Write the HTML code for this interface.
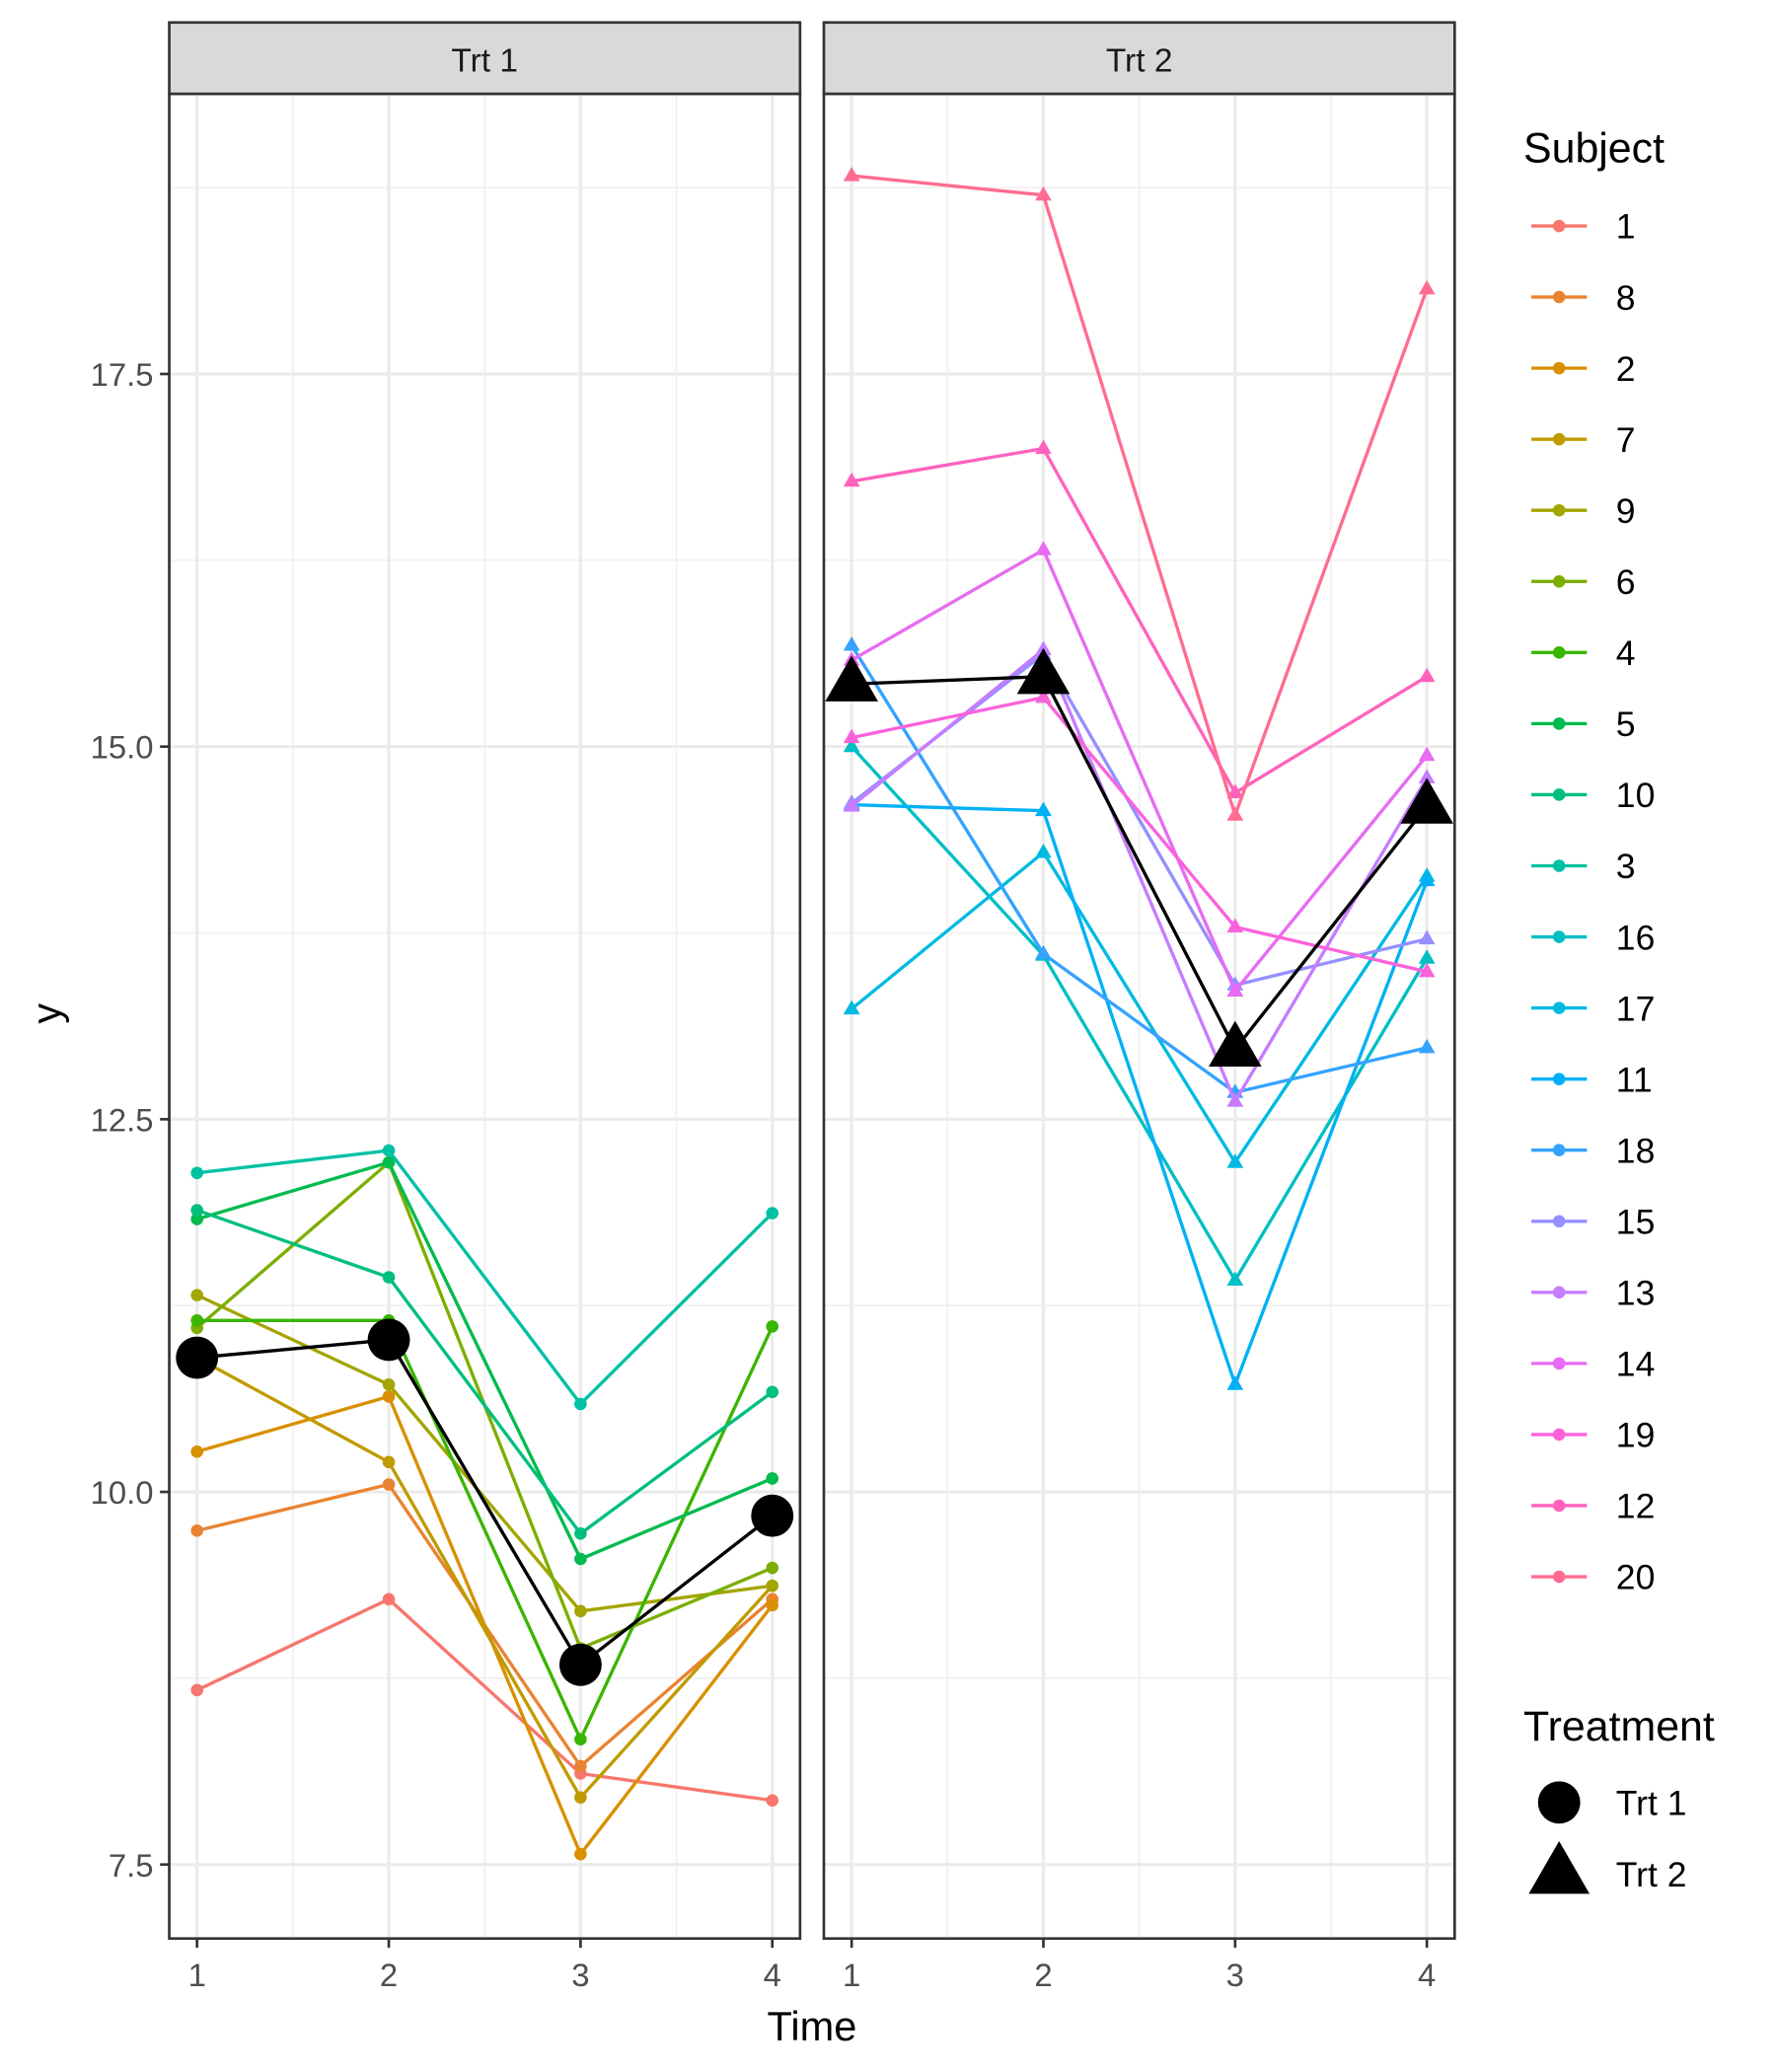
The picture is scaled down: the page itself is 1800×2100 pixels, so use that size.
<!DOCTYPE html>
<html><head><meta charset="utf-8"><style>html,body{margin:0;padding:0;background:#fff}svg{display:block}text{font-family:"Liberation Sans",Arial,sans-serif}</style></head>
<body>
<svg id="chart" width="1800" height="2100" viewBox="0 0 1343 1568" preserveAspectRatio="none" xmlns="http://www.w3.org/2000/svg"></svg>
<script>
const times=[1,2,3,4];
const trt1Subjects=["1","8","2","7","9","6","4","5","10","3"];
const trt1Values=[
[8.67,9.28,8.11,7.93],
[9.74,10.05,8.16,9.28],
[10.27,10.64,7.57,9.24],
[10.9,10.2,7.95,9.37],
[11.32,10.72,9.2,9.37],
[11.1,12.21,8.95,9.49],
[11.15,11.15,8.34,11.11],
[11.83,12.21,9.55,10.09],
[11.89,11.44,9.72,10.67],
[12.14,12.29,10.59,11.87]];
const trt1Mean=[10.9,11.02,8.84,9.84];
const trt2Subjects=["16","17","11","18","15","13","14","19","12","20"];
const trt2Values=[
[15.0,13.6,11.42,13.58],
[13.24,14.29,12.21,14.13],
[14.61,14.57,10.72,14.1],
[15.68,13.61,12.68,12.98],
[14.62,15.62,13.4,13.71],
[14.6,15.65,12.62,14.79],
[15.58,16.32,13.36,14.94],
[15.06,15.33,13.79,13.49],
[16.78,17.0,14.69,15.47],
[18.83,18.7,14.54,18.07]];
const trt2Mean=[15.42,15.47,12.97,14.6];
const legendSubjects=["1","8","2","7","9","6","4","5","10","3","16","17","11","18","15","13","14","19","12","20"];
const legendColors=["#F8766D","#EA8331","#D89000","#C09B00","#A3A500","#7CAE00","#39B600","#00BB4E","#00BF7D","#00C1A3","#00BFC4","#00BAE0","#00B0F6","#35A2FF","#9590FF","#C77CFF","#E76BF3","#FA62DB","#FF62BC","#FF6C91"];
const yTicks=[7.5,10.0,12.5,15.0,17.5];
const yMinor=[8.75,11.25,13.75,16.25,18.75];

const svg=document.getElementById('chart');
const NS="http://www.w3.org/2000/svg";
function mk(tag,attrs,parent){const e=document.createElementNS(NS,tag);for(const k in attrs)e.setAttribute(k,attrs[k]);(parent||svg).appendChild(e);return e;}
const top_=71,bot=1467;
function yS(v){return 1129-(v-10)*112.8;}
function xS(panelLeft,t){return panelLeft+21+(t-1)*145;}
function colorOf(s){return legendColors[legendSubjects.indexOf(s)];}
function tri(cx,cy,s){const h=s*0.866;return `${cx},${cy-h*0.62} ${cx-s/2},${cy+h*0.38} ${cx+s/2},${cy+h*0.38}`;}

const panels=[{left:128,title:"Trt 1",subj:trt1Subjects,vals:trt1Values,mean:trt1Mean,shape:"circle"},
{left:623,title:"Trt 2",subj:trt2Subjects,vals:trt2Values,mean:trt2Mean,shape:"tri"}];
panels.forEach((p,pi)=>{
 const g=mk('g',{});
 
 
 const R=p.left+477;
 yMinor.forEach(v=>mk('line',{x1:p.left,x2:R,y1:yS(v),y2:yS(v),stroke:"#f0f0f0","stroke-width":1.2},g));
 [1.5,2.5,3.5].forEach(t=>mk('line',{x1:xS(p.left,t),x2:xS(p.left,t),y1:top_,y2:bot,stroke:"#f0f0f0","stroke-width":1.2},g));
 yTicks.forEach(v=>mk('line',{x1:p.left,x2:R,y1:yS(v),y2:yS(v),stroke:"#ebebeb","stroke-width":2.4},g));
 times.forEach(t=>mk('line',{x1:xS(p.left,t),x2:xS(p.left,t),y1:top_,y2:bot,stroke:"#ebebeb","stroke-width":2.4},g));
 p.vals.forEach((vals,i)=>{
  const c=colorOf(p.subj[i]);
  const sg=mk('g',{},g);
  
  
  mk('polyline',{points:vals.map((v,j)=>xS(p.left,times[j])+","+yS(v)).join(" "),fill:"none",stroke:c,"stroke-width":2.5},sg);
  vals.forEach((v,j)=>{
   if(p.shape==="circle")mk('circle',{cx:xS(p.left,times[j]),cy:yS(v),r:4.7,fill:c},sg);
   else mk('polygon',{points:tri(xS(p.left,times[j]),yS(v),12.5),fill:c},sg);
  });
 });
 const mg=mk('g',{},g);
 
 
 mk('polyline',{points:p.mean.map((v,j)=>xS(p.left,times[j])+","+yS(v)).join(" "),fill:"none",stroke:"#000","stroke-width":2.5},mg);
 p.mean.forEach((v,j)=>{
  if(p.shape==="circle")mk('circle',{cx:xS(p.left,times[j]),cy:yS(v),r:16,fill:"#000"},mg);
  else mk('polygon',{points:tri(xS(p.left,times[j]),yS(v),40),fill:"#000"},mg);
 });
 mk('rect',{x:p.left,y:top_,width:477,height:bot-top_,fill:"none",stroke:"#333","stroke-width":2},g);
 const st=mk('rect',{x:p.left,y:17,width:477,height:54,fill:"#d9d9d9",stroke:"#333","stroke-width":2});
 
 
 const stt=mk('text',{x:p.left+238.5,y:54,"text-anchor":"middle","font-size":25,fill:"#1a1a1a"});
 stt.textContent=p.title;
 
 
 times.forEach(t=>{
  mk('line',{x1:xS(p.left,t),x2:xS(p.left,t),y1:bot,y2:bot+7,stroke:"#333","stroke-width":2});
  const tl=mk('text',{x:xS(p.left,t),y:bot+36,"text-anchor":"middle","font-size":24.5,fill:"#4d4d4d"});
  tl.textContent=t;
  
  
 });
});
yTicks.forEach(v=>{
 mk('line',{x1:121,x2:128,y1:yS(v),y2:yS(v),stroke:"#333","stroke-width":2});
 const tl=mk('text',{x:116,y:yS(v)+9,"text-anchor":"end","font-size":24.5,fill:"#4d4d4d"});
 tl.textContent=v.toFixed(1);
 
 
});
const yt=mk('text',{x:46,y:767,"text-anchor":"middle","font-size":31,fill:"#000",transform:"rotate(-90 46 767)"});
yt.textContent="y";


const xt=mk('text',{x:614,y:1544,"text-anchor":"middle","font-size":31,fill:"#000"});
xt.textContent="Time";



const lt=mk('text',{x:1152,y:123,"font-size":32,fill:"#000"});
lt.textContent="Subject";


legendSubjects.forEach((s,i)=>{
 const y=171+i*53.8;
 const g=mk('g',{});
 
 
 mk('line',{x1:1158,x2:1200,y1:y,y2:y,stroke:legendColors[i],"stroke-width":2.5},g);
 mk('circle',{cx:1179,cy:y,r:4.7,fill:legendColors[i]},g);
 const t=mk('text',{x:1222,y:y+9.5,"font-size":26.5,fill:"#000"},g);t.textContent=s;
});
const tt=mk('text',{x:1152,y:1317,"font-size":32,fill:"#000"});
tt.textContent="Treatment";


const g1=mk('g',{});


mk('circle',{cx:1179,cy:1364,r:16,fill:"#000"},g1);
const t1=mk('text',{x:1222,y:1373.5,"font-size":26.5,fill:"#000"},g1);t1.textContent="Trt 1";
const g2=mk('g',{});


mk('polygon',{points:tri(1179,1418,46),fill:"#000"},g2);
const t2=mk('text',{x:1222,y:1427.5,"font-size":26.5,fill:"#000"},g2);t2.textContent="Trt 2";
</script>
</body></html>
